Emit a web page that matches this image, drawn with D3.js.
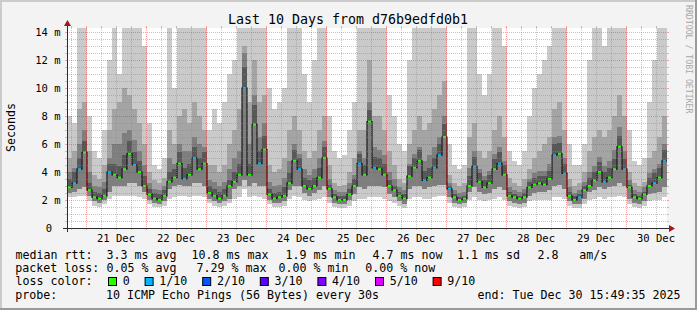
<!DOCTYPE html>
<html>
<head>
<meta charset="utf-8">
<script src="https://cdn.jsdelivr.net/npm/d3@7"></script>
<style>
	body { margin: 0; background: #f3f3f3; }
	svg { display: block; font-family: "DejaVu Sans Mono", monospace; }
</style>
</head>
<body>
<div id="chart"></div>
<script>
///////////////////////////////////////////////////////////////////////////
//////////////////////////// data /////////////////////////////////////////
///////////////////////////////////////////////////////////////////////////

// one value per 2 hour step (ms)
const med = [
	2.9, 3.2, 4.2, 5.4,
	2.7, 2.2, 2.1, 2.3, 4.0, 3.8, 3.6, 4.2, 5.3, 4.5, 4.0, 3.0,
	2.4, 2.1, 2.0, 2.3, 3.3, 3.6, 4.6, 3.5, 3.8, 5.0, 4.2, 4.6,
	2.5, 2.3, 2.1, 2.3, 3.0, 3.3, 3.8, 10.0, 3.8, 7.4, 4.6, 5.6,
	2.4, 2.1, 2.2, 2.3, 3.2, 4.8, 4.2, 3.0, 2.8, 3.0, 3.6, 5.0,
	2.8, 2.2, 2.0, 2.0, 2.4, 3.0, 4.6, 3.8, 7.6, 4.3, 4.2, 3.8,
	3.0, 2.7, 2.3, 2.1, 3.7, 4.3, 4.8, 3.4, 3.6, 4.3, 5.2, 6.5,
	2.8, 2.2, 2.0, 2.1, 3.0, 4.4, 3.3, 2.9, 3.2, 4.2, 4.6, 3.8,
	2.3, 2.2, 2.1, 2.2, 2.9, 3.1, 3.2, 3.1, 3.5, 5.2, 5.3, 3.9,
	2.3, 2.0, 2.2, 2.7, 3.0, 3.4, 4.0, 3.3, 3.6, 4.2, 5.8, 4.2,
	2.9, 2.2, 2.1, 2.4, 3.0, 3.2, 3.6, 4.8
];

// lost pings per step (index into lossColors)
const loss = [
	0, 1, 1, 0,
	0, 0, 0, 0, 1, 0, 0, 0, 0, 1, 0, 0,
	0, 0, 0, 0, 0, 0, 0, 1, 0, 1, 0, 0,
	0, 0, 0, 0, 0, 0, 0, 1, 0, 0, 1, 0,
	0, 0, 0, 0, 0, 0, 1, 0, 0, 0, 0, 0,
	0, 0, 0, 0, 0, 0, 1, 0, 0, 1, 0, 0,
	0, 0, 0, 0, 0, 0, 0, 1, 0, 1, 1, 0,
	1, 0, 0, 0, 0, 1, 0, 0, 0, 0, 1, 0,
	0, 0, 0, 0, 0, 0, 0, 0, 0, 1, 0, 1,
	0, 0, 1, 0, 0, 0, 0, 1, 0, 0, 0, 1,
	0, 0, 0, 0, 0, 1, 0, 1
];

// slowest ping (top of the lightest smoke)
const hi1 = [
	8.0, 7.5, 14.3, 14.3,
	8.0, 5.5, 5.0, 7.0, 12, 14.3, 11, 14.3, 14.3, 14.3, 14.3, 13,
	7.5, 4.5, 4.2, 5.0, 14.3, 10, 14.3, 14.3, 14.3, 14.3, 14.3, 14.3,
	7.0, 8.5, 7.5, 9.0, 11, 12, 14.3, 14.3, 14.3, 14.3, 14.3, 14.3,
	10, 8.5, 9.0, 10, 14.3, 14.3, 14.3, 11, 9.0, 12, 14.3, 14.3,
	8.0, 5.5, 5.0, 5.2, 7.0, 9.0, 14.3, 14.3, 14.3, 14.3, 14.3, 14.3,
	9.5, 8.0, 6.0, 5.5, 12, 14.3, 14.3, 14.3, 14.3, 14.3, 14.3, 14.3,
	6.0, 4.5, 4.2, 4.5, 14.3, 14.3, 11, 9.5, 11, 14.3, 14.3, 13,
	5.5, 4.8, 4.5, 5.5, 8.0, 10, 11, 12, 13, 14.3, 14.3, 14.3,
	6.0, 4.5, 4.5, 6.0, 12, 14.3, 14.3, 13, 14.3, 14.3, 14.3, 14.3,
	7.0, 4.8, 4.5, 5.0, 9.0, 12, 14.3, 14.3
];

// 9th ping
const hi2 = [
	5.0, 5.5, 8.5, 9.0,
	5.5, 3.8, 3.5, 4.5, 7, 8.5, 9, 10, 9.5, 8.5, 7.5, 6,
	4.0, 3.4, 3.2, 3.6, 7, 6, 8, 8.5, 7.5, 9, 8, 7,
	4.5, 4.5, 4.0, 4.5, 6.0, 7, 8.5, 13, 9, 12, 9, 9.5,
	4.5, 4.0, 4.2, 5.0, 7, 8, 7, 5.5, 5, 5.5, 7, 8,
	4.5, 3.2, 3.0, 3.1, 4.0, 5, 7, 7, 12, 8, 8, 7,
	5.5, 4.5, 3.5, 3.2, 6, 7, 8, 7, 7.5, 8.5, 9.5, 10.5,
	3.8, 3.2, 3.0, 3.2, 6.5, 7.5, 5.5, 5, 5.5, 7, 8, 6.5,
	3.6, 3.2, 3.0, 3.5, 4.2, 5, 5.5, 6, 6.5, 8.5, 9, 7,
	3.5, 3.0, 3.2, 4.0, 5.5, 6.5, 7, 6.5, 7, 8, 9.5, 8,
	4.0, 3.2, 3.0, 3.3, 5, 5.5, 6.5, 8
];

// 8th ping
const hi3 = [
	4.0, 4.3, 6.0, 7.0,
	4.0, 3.0, 2.9, 3.3, 5, 6, 6, 6.8, 7, 6.3, 5.5, 4.5,
	3.2, 2.8, 2.7, 3.0, 5, 4.6, 6, 5.5, 5.5, 6.5, 6, 5.8,
	3.4, 3.3, 3.0, 3.3, 4.2, 5, 5.5, 12.5, 6, 9.5, 6.5, 7.5,
	3.3, 3.0, 3.1, 3.6, 4.8, 6, 5.3, 4.2, 3.8, 4.2, 5, 6.2,
	3.5, 2.7, 2.6, 2.6, 3.2, 3.8, 5.5, 5, 9, 5.8, 5.6, 5.2,
	4.0, 3.5, 2.9, 2.7, 4.6, 5.3, 5.8, 4.8, 5.2, 5.8, 6.5, 8,
	3.2, 2.7, 2.5, 2.6, 4.3, 5.5, 4.2, 3.7, 4.1, 5.3, 5.8, 4.8,
	2.9, 2.7, 2.6, 2.8, 3.5, 3.9, 4.1, 4.1, 4.6, 6.5, 6.6, 5,
	2.9, 2.5, 2.7, 3.3, 4.0, 4.4, 5.1, 4.4, 4.8, 5.6, 7.2, 5.5,
	3.4, 2.7, 2.6, 2.9, 3.9, 4.2, 4.6, 6
];

// 7th ping
const hi4 = [
	3.5, 4.0, 5.0, 6.2,
	3.2, 2.6, 2.5, 2.8, 4.6, 4.6, 4.4, 5.2, 6.2, 5.4, 4.8, 3.7,
	2.8, 2.5, 2.4, 2.7, 4.0, 4.2, 5.4, 4.3, 4.6, 5.8, 5.0, 5.4,
	3.0, 2.8, 2.6, 2.8, 3.4, 4.0, 4.6, 11.5, 4.6, 8.8, 5.5, 6.6,
	2.8, 2.5, 2.6, 2.9, 3.9, 5.6, 5.0, 3.6, 3.4, 3.6, 4.3, 5.8,
	3.1, 2.4, 2.3, 2.3, 2.8, 3.5, 5.3, 4.5, 8.4, 5.1, 5.0, 4.6,
	3.4, 3.0, 2.6, 2.4, 4.4, 5.0, 5.6, 4.1, 4.3, 5.0, 6.0, 7.4,
	3.0, 2.4, 2.2, 2.3, 3.7, 5.1, 3.9, 3.4, 3.8, 4.9, 5.4, 4.5,
	2.6, 2.4, 2.3, 2.5, 3.3, 3.6, 3.7, 3.7, 4.1, 6.0, 6.1, 4.6,
	2.6, 2.3, 2.4, 3.0, 3.6, 4.0, 4.7, 4.0, 4.3, 4.9, 6.6, 4.9,
	3.1, 2.4, 2.3, 2.6, 3.6, 3.9, 4.3, 5.6
];

// 2nd ping
const lo2 = [
	2.5, 2.6, 2.8, 2.9,
	2.3, 1.9, 1.8, 2.0, 2.6, 3.0, 3.0, 3.0, 3.2, 3.2, 3.0, 2.6,
	2.0, 1.8, 1.7, 1.9, 2.8, 3.0, 3.1, 3.0, 3.0, 3.2, 3.2, 3.0,
	2.1, 1.9, 1.8, 1.9, 2.1, 2.8, 3.0, 3.4, 3.0, 3.2, 3.0, 3.0,
	2.0, 1.8, 1.8, 1.9, 2.7, 3.0, 3.0, 2.5, 2.3, 2.5, 2.7, 3.0,
	2.2, 1.8, 1.7, 1.7, 2.0, 2.4, 2.9, 2.8, 3.0, 3.0, 3.0, 2.9,
	2.4, 2.2, 1.9, 1.7, 2.8, 3.0, 3.0, 2.8, 2.9, 3.0, 3.1, 3.1,
	2.2, 1.8, 1.7, 1.8, 2.6, 2.9, 2.6, 2.4, 2.5, 2.8, 2.9, 2.7,
	1.9, 1.8, 1.7, 1.8, 2.3, 2.5, 2.6, 2.6, 2.7, 3.0, 3.1, 2.8,
	1.9, 1.7, 1.7, 2.1, 2.6, 2.7, 2.9, 2.8, 2.9, 3.0, 3.2, 3.0,
	2.1, 1.8, 1.7, 1.9, 2.4, 2.5, 2.6, 2.9
];

// fastest ping (bottom of the lightest smoke)
const lo1 = [
	2.2, 2.2, 2.3, 2.3,
	1.9, 1.6, 1.5, 1.7, 2.1, 2.3, 2.3, 2.3, 2.3, 2.3, 2.2, 2.1,
	1.7, 1.5, 1.5, 1.6, 2.1, 2.2, 2.3, 2.3, 2.2, 2.3, 2.3, 2.2,
	1.8, 1.6, 1.5, 1.6, 1.8, 2.1, 2.2, 2.8, 2.2, 2.3, 2.2, 2.1,
	1.7, 1.5, 1.5, 1.6, 2.1, 2.3, 2.2, 2.0, 1.9, 2.0, 2.1, 2.2,
	1.8, 1.5, 1.4, 1.4, 1.6, 1.9, 2.1, 2.1, 2.2, 2.2, 2.2, 2.1,
	1.9, 1.8, 1.6, 1.4, 2.1, 2.2, 2.2, 2.1, 2.1, 2.2, 2.3, 2.3,
	1.8, 1.5, 1.4, 1.5, 2.0, 2.2, 2.0, 1.9, 2.0, 2.1, 2.2, 2.0,
	1.6, 1.5, 1.4, 1.5, 1.9, 2.0, 2.0, 2.0, 2.0, 2.2, 2.2, 2.1,
	1.6, 1.4, 1.4, 1.7, 2.0, 2.1, 2.2, 2.1, 2.2, 2.2, 2.3, 2.2,
	1.7, 1.5, 1.4, 1.6, 1.9, 2.0, 2.0, 2.2
];

const startTime = new Date(2025, 11, 20, 16, 24);
const endTime = new Date(2025, 11, 30, 16, 24);
const stepHours = 2;
const yMax = 14.2857;

const yLabels = ["0", "2 m", "4 m", "6 m", "8 m", "10 m", "12 m", "14 m"];
const yLabelValues = [0, 2, 4, 6, 8, 10, 12, 14];
const dayLabels = ["21 Dec", "22 Dec", "23 Dec", "24 Dec", "25 Dec", "26 Dec", "27 Dec", "28 Dec", "29 Dec", "30 Dec"];

const lossColors = ["#26ff00", "#00b8ff", "#0059ff", "#5e00ff", "#7e00ff", "#dd00ff", "#ff0000"];
const lossLabels = ["0", "1/10", "2/10", "3/10", "4/10", "5/10", "9/10"];

const rttRow = ["median rtt:", "3.3 ms avg", "10.8 ms max", "1.9 ms min", "4.7 ms now", "1.1 ms sd", "2.8", "am/s"];
const lossRow = ["packet loss:", "0.05 % avg", "7.29 % max", "0.00 % min", "0.00 % now"];
const probeRow = ["probe:", "10 ICMP Echo Pings (56 Bytes) every 30s", "end: Tue Dec 30 15:49:35 2025"];

// smoke shades, outer to inner
const smokeColors = ["#cacaca", "#a4a4a4", "#7e7e7e", "#585858"];

///////////////////////////////////////////////////////////////////////////
//////////////////////////// svg //////////////////////////////////////////
///////////////////////////////////////////////////////////////////////////

const width = 697,
	height = 310,
	plot = { left: 67, right: 667, top: 28, bottom: 228 };

const svg = d3.select("#chart")
	.append("svg")
	.attr("width", width)
	.attr("height", height);

// frame with shading
svg.append("rect").attr("width", width).attr("height", height).attr("fill", "#f3f3f3");
svg.append("path").attr("d", `M1,${height} V1 H${width}`).attr("fill", "none").attr("stroke", "#cbcbcb").attr("stroke-width", 2);
svg.append("path").attr("d", `M${width - 1},0 V${height - 1} H0`).attr("fill", "none").attr("stroke", "#9a9a9a").attr("stroke-width", 2);

svg.append("rect")
	.attr("x", plot.left).attr("y", plot.top)
	.attr("width", plot.right - plot.left).attr("height", plot.bottom - plot.top)
	.attr("fill", "#fff");

svg.append("clipPath").attr("id", "clip")
	.append("rect")
	.attr("x", plot.left).attr("y", plot.top)
	.attr("width", plot.right - plot.left).attr("height", plot.bottom - plot.top);

// scales
const x = d3.scaleTime().domain([startTime, endTime]).range([plot.left, plot.right]);
const y = d3.scaleLinear().domain([0, yMax]).range([plot.bottom, plot.top]);
const lossScale = d3.scaleOrdinal().domain(d3.range(lossColors.length)).range(lossColors);

const data = med.map((m, i) => ({
	t: d3.timeHour.offset(startTime, i * stepHours),
	med: m, loss: loss[i],
	hi1: hi1[i], hi2: hi2[i], hi3: hi3[i], hi4: hi4[i],
	lo1: lo1[i], lo2: lo2[i]
}));
// closing point so the last step is drawn to the end of the axis
const series = data.concat([Object.assign({}, data[data.length - 1], { t: endTime })]);

///////////////////////////////////////////////////////////////////////////
//////////////////////////// smoke ////////////////////////////////////////
///////////////////////////////////////////////////////////////////////////

const plotG = svg.append("g").attr("clip-path", "url(#clip)");

const bands = [["lo1", "hi1"], ["lo2", "hi2"], ["lo2", "hi3"], ["med", "hi4"]];

bands.forEach(([lo, hi], k) => {
	const area = d3.area()
		.curve(d3.curveStepAfter)
		.x(d => x(d.t))
		.y0(d => y(d[lo]))
		.y1(d => y(d[hi]));
	plotG.append("path")
		.datum(series)
		.attr("d", area)
		.attr("fill", smokeColors[k])
		.attr("shape-rendering", "crispEdges");
});

///////////////////////////////////////////////////////////////////////////
//////////////////////////// grid /////////////////////////////////////////
///////////////////////////////////////////////////////////////////////////

const minorColor = "rgba(140,140,140,0.5)";
const majorColor = "rgba(255,0,0,0.35)";
const gridG = svg.append("g").attr("shape-rendering", "crispEdges");

const px = v => Math.round(v) + 0.5;

const minorY = d3.range(0.5, yMax, 0.5).filter(v => v % 2 !== 0);
const majorY = yLabelValues.filter(v => v > 0);

function hLine(v, color) {
	gridG.append("line")
		.attr("x1", plot.left).attr("x2", plot.right)
		.attr("y1", px(y(v))).attr("y2", px(y(v)))
		.attr("stroke", color)
		.attr("stroke-dasharray", "1,1");
	// ticks outside the canvas
	[[plot.left - 2, plot.left], [plot.right, plot.right + 2]].forEach(([a, b]) => {
		gridG.append("line").attr("x1", a).attr("x2", b)
			.attr("y1", px(y(v))).attr("y2", px(y(v))).attr("stroke", color);
	});
}

function vLine(t, color) {
	gridG.append("line")
		.attr("x1", px(x(t))).attr("x2", px(x(t)))
		.attr("y1", plot.top).attr("y2", plot.bottom)
		.attr("stroke", color)
		.attr("stroke-dasharray", "1,1");
	[[plot.top - 2, plot.top], [plot.bottom, plot.bottom + 2]].forEach(([a, b]) => {
		gridG.append("line").attr("y1", a).attr("y2", b)
			.attr("x1", px(x(t))).attr("x2", px(x(t))).attr("stroke", color);
	});
}

minorY.forEach(v => hLine(v, minorColor));
x.ticks(d3.timeHour.every(6))
	.filter(t => t.getHours() !== 0)
	.forEach(t => vLine(t, minorColor));

majorY.forEach(v => hLine(v, majorColor));
x.ticks(d3.timeDay).forEach(t => vLine(t, majorColor));

///////////////////////////////////////////////////////////////////////////
//////////////////////////// median ///////////////////////////////////////
///////////////////////////////////////////////////////////////////////////

const medLine = d3.line()
	.curve(d3.curveStepAfter)
	.x(d => x(d.t))
	.y(d => y(d.med));

plotG.append("path")
	.datum(series)
	.attr("d", medLine)
	.attr("fill", "none")
	.attr("stroke", "#1a1a1a")
	.attr("stroke-width", 1.2);

plotG.selectAll(".medpt")
	.data(data)
	.enter()
	.append("line")
	.attr("class", "medpt")
	.attr("x1", (d, i) => x(d.t) + 1)
	.attr("x2", (d, i) => x(series[i + 1].t) - 1)
	.attr("y1", d => y(d.med))
	.attr("y2", d => y(d.med))
	.attr("stroke", d => lossScale(d.loss))
	.attr("stroke-width", 2);

///////////////////////////////////////////////////////////////////////////
//////////////////////////// axes /////////////////////////////////////////
///////////////////////////////////////////////////////////////////////////

const axisColor = "#2b2b2b";
const arrowColor = "#a01818";

svg.append("line")
	.attr("x1", plot.left - 4).attr("x2", plot.right + 4)
	.attr("y1", plot.bottom + 0.5).attr("y2", plot.bottom + 0.5)
	.attr("stroke", axisColor).attr("shape-rendering", "crispEdges");
svg.append("line")
	.attr("x1", plot.left + 0.5).attr("x2", plot.left + 0.5)
	.attr("y1", plot.bottom + 4).attr("y2", plot.top - 4)
	.attr("stroke", axisColor).attr("shape-rendering", "crispEdges");

svg.append("path")
	.attr("d", `M${plot.left - 3},${plot.top - 2} L${plot.left + 0.5},${plot.top - 8} L${plot.left + 4},${plot.top - 2} Z`)
	.attr("fill", arrowColor);
svg.append("path")
	.attr("d", `M${plot.right + 2},${plot.bottom - 3} L${plot.right + 8},${plot.bottom + 0.5} L${plot.right + 2},${plot.bottom + 4} Z`)
	.attr("fill", arrowColor);

// y labels
svg.selectAll(".ylab")
	.data(yLabels)
	.enter()
	.append("text")
	.attr("class", "ylab")
	.attr("x", (d, i) => (i === 0 ? 52 : 60.5))
	.attr("y", (d, i) => y(yLabelValues[i]) + 4)
	.attr("text-anchor", "end")
	.attr("font-size", "10.5px")
	.attr("fill", "#000")
	.text(d => d);

// x labels at noon
const noons = x.ticks(d3.timeDay).map(t => d3.timeHour.offset(t, 12));
svg.selectAll(".xlab")
	.data(dayLabels)
	.enter()
	.append("text")
	.attr("class", "xlab")
	.attr("x", (d, i) => x(noons[i]))
	.attr("y", 241.5)
	.attr("text-anchor", "middle")
	.attr("font-size", "10.5px")
	.attr("fill", "#000")
	.text(d => d);

// axis title
svg.append("text")
	.attr("transform", "translate(15,127.5) rotate(-90)")
	.attr("text-anchor", "middle")
	.attr("font-size", "11.6px")
	.text("Seconds");

// title
svg.append("text")
	.attr("x", 348)
	.attr("y", 24)
	.attr("text-anchor", "middle")
	.attr("font-size", "13.3px")
	.text("Last 10 Days from d76b9edfd0b1");

// watermark
svg.append("text")
	.attr("transform", "translate(685.5,5) rotate(90)")
	.attr("font-size", "8.2px")
	.attr("fill", "#a8a8a8")
	.text("RRDTOOL / TOBI OETIKER");

///////////////////////////////////////////////////////////////////////////
//////////////////////////// legend ///////////////////////////////////////
///////////////////////////////////////////////////////////////////////////

const legend = svg.append("g").attr("font-size", "11.63px").attr("fill", "#000");
const rowY = [258.5, 271.8, 285.2, 298.5];

function row(items, xs, yy) {
	items.forEach((t, i) => {
		legend.append("text")
			.attr("x", xs[i]).attr("y", yy)
			.attr("xml:space", "preserve")
			.text(t);
	});
}

row(rttRow, [15.6, 106.5, 191.4, 285.4, 372.4, 457, 537.5, 579.2], rowY[0]);
row(lossRow, [15.2, 106.5, 196.5, 278.5, 365.2], rowY[1]);
row(probeRow, [15.2, 106, 477.5], rowY[3]);

legend.append("text").attr("x", 15.6).attr("y", rowY[2]).text("loss color:");

let lx = 108.5;
lossLabels.forEach((lab, i) => {
	legend.append("rect")
		.attr("x", lx).attr("y", 277.5)
		.attr("width", 8).attr("height", 8)
		.attr("fill", lossColors[i])
		.attr("stroke", "#000").attr("stroke-width", 1);
	legend.append("text").attr("x", lx + 14.2).attr("y", rowY[2]).text(lab);
	lx += 14.2 + lab.length * 7 + 15.4;
});
</script>
</body>
</html>
